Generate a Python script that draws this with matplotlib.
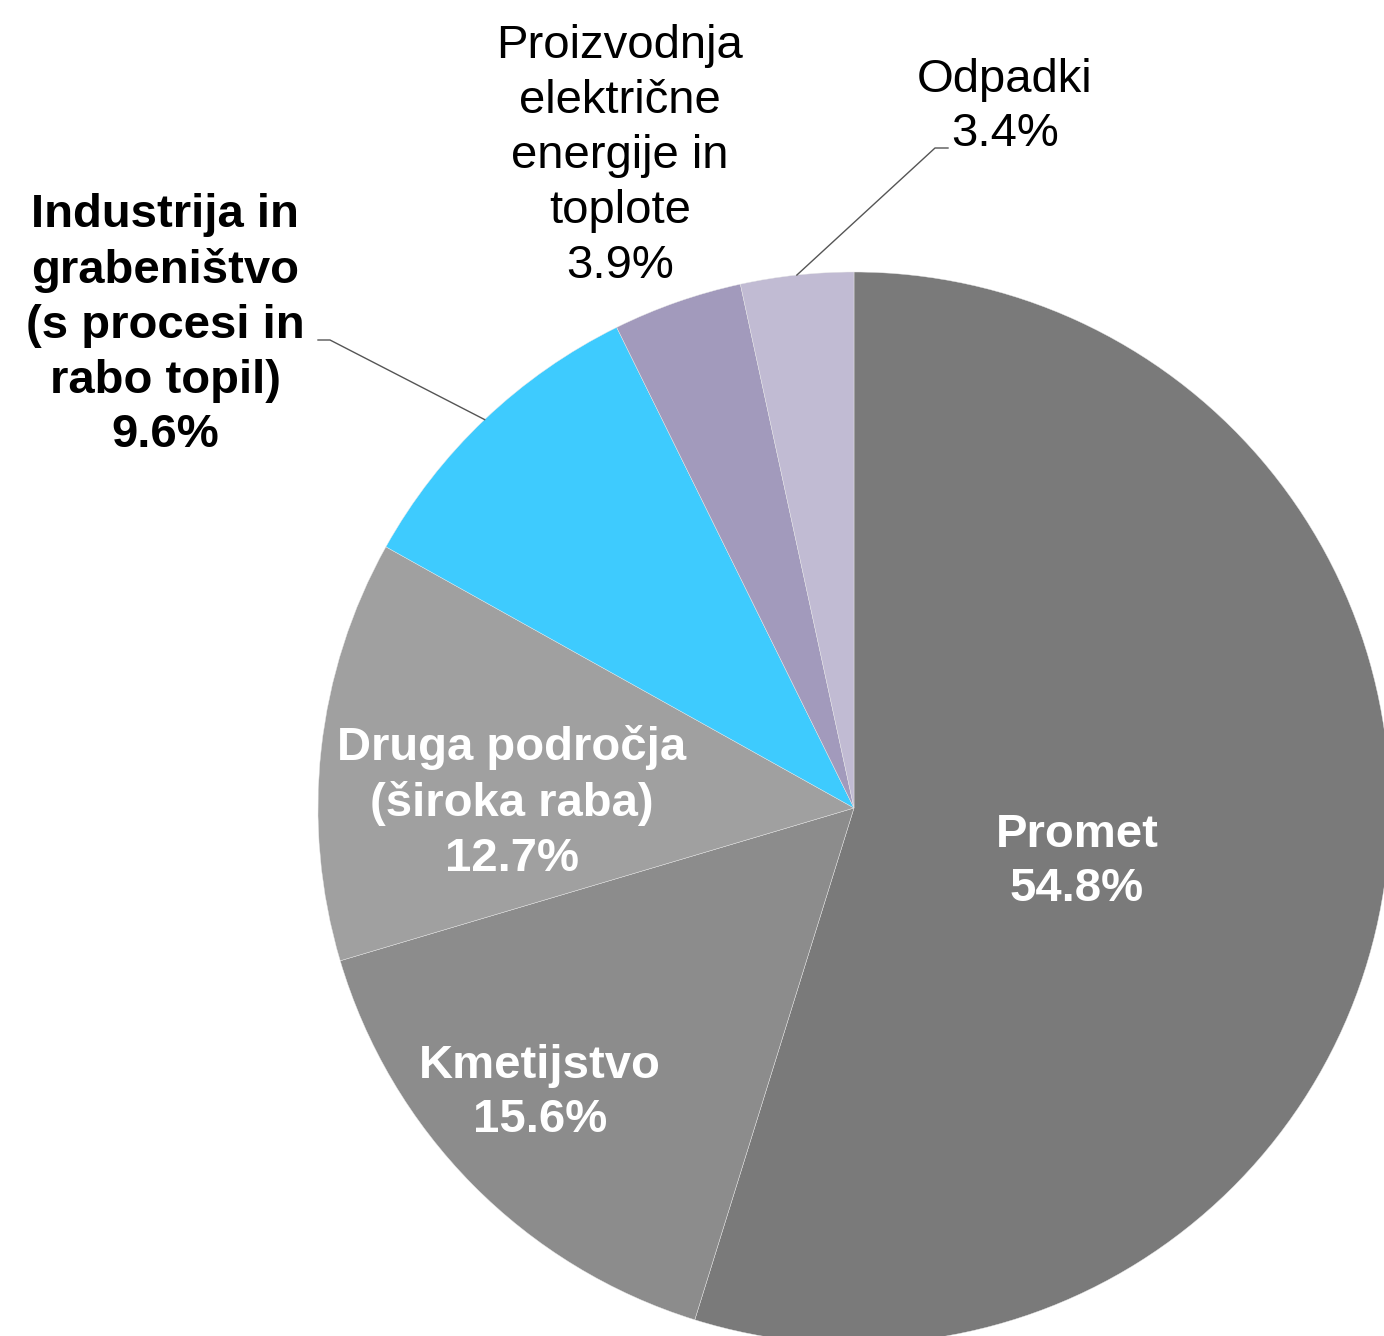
import numpy as np
import matplotlib
matplotlib.use('Agg')
import matplotlib.pyplot as plt

# Podatki
labels = ['Promet', 'Kmetijstvo', 'Druga področja\n(široka raba)',
          'Industrija in\ngrabeništvo\n(s procesi in\nrabo topil)',
          'Proizvodnja\nelektrične\nenergije in\ntoplote', 'Odpadki']
shares = [54.8, 15.6, 12.7, 9.6, 3.9, 3.4]
colors = ['#7a7a7a', '#8c8c8c', '#a0a0a0', '#3ecbfe', '#a29abc', '#c1bbd3']

W, H = 1384, 1336
plt.rcParams['font.family'] = ['Liberation Sans', 'DejaVu Sans']

fig = plt.figure(figsize=(W / 100, H / 100), dpi=100)
ax = fig.add_axes([0, 0, 1, 1])

cx, cy, r = 854, H - 808, 536
wedges, _ = ax.pie(shares, colors=colors, startangle=90, counterclock=False,
                   center=(cx, cy), radius=r,
                   wedgeprops=dict(edgecolor='#e8e8e8', linewidth=0.3))
ax.set_xlim(0, W)
ax.set_ylim(0, H)
ax.set_aspect('equal')
ax.axis('off')

# položaji oznak (v pikslih slike) in slog
label_pos = [(1077, 862), (540, 1093), (512, 803), (165, 325), (620, 156), (1005, 107)]
label_col = ['white', 'white', 'white', 'black', 'black', 'black']
label_wt = ['bold', 'bold', 'bold', 'bold', 'normal', 'normal']

for lab, v, (x, y), c, wt in zip(labels, shares, label_pos, label_col, label_wt):
    ax.text(x, H - y, f"{lab}\n{v:.1f}%", ha='center', va='center', multialignment='center',
            fontsize=34, color=c, fontweight=wt, linespacing=1.32)

# povezovalne črte
def edge_point(w):
    a = np.deg2rad((w.theta1 + w.theta2) / 2)
    return cx + r * np.cos(a), cy + r * np.sin(a)

x0, y0 = edge_point(wedges[3])
ax.plot([x0, 330, 318], [y0, H - 340, H - 340], color='#555555', lw=1)
x0, y0 = edge_point(wedges[5])
ax.plot([x0, 935, 948], [y0, H - 148, H - 148], color='#555555', lw=1)

fig.savefig('out.png', dpi=100)
